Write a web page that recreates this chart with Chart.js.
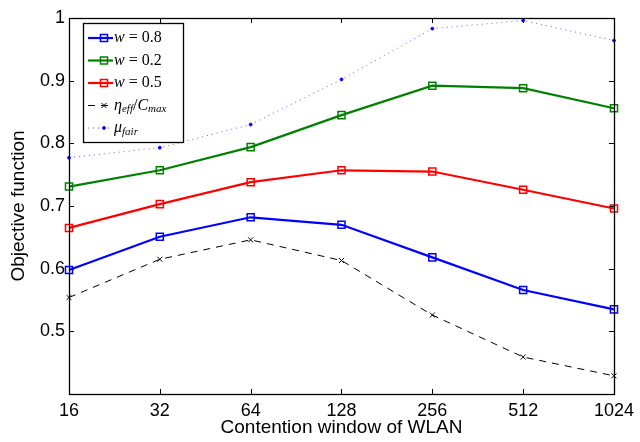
<!DOCTYPE html>
<html>
<head>
<meta charset="utf-8">
<script src="https://cdn.jsdelivr.net/npm/chart.js@4"></script>
<style>
  html, body { margin: 0; padding: 0; background: #fff; }
</style>
</head>
<body>
<canvas id="grafico" width="640" height="442"></canvas>
<script>
// --- Dados ---
const categorias = ['16', '32', '64', '128', '256', '512', '1024'];
const w08 = [0.598, 0.651, 0.682, 0.670, 0.618, 0.566, 0.535];
const w02 = [0.731, 0.757, 0.794, 0.845, 0.892, 0.888, 0.856];
const w05 = [0.665, 0.703, 0.738, 0.757, 0.755, 0.726, 0.696];
const etaEff = [0.554, 0.615, 0.646, 0.613, 0.526, 0.459, 0.429];
const muFair = [0.777, 0.793, 0.830, 0.902, 0.983, 0.996, 0.964];
const yTicks = [0.4, 0.5, 0.6, 0.7, 0.8, 0.9, 1];
const rotulos = ['w = 0.8', 'w = 0.2', 'w = 0.5', 'η_eff/C_max', 'μ_fair'];

const fonteEixo = 'Liberation Sans, Arial, sans-serif';

// moldura estilo MATLAB, com marcas para dentro nos quatro lados
const moldura = {
    id: 'moldura',
    afterDatasetsDraw(chart) {
        const { ctx, chartArea: a, scales } = chart;
        ctx.save();
        ctx.strokeStyle = '#000';
        ctx.lineWidth = 1;
        ctx.beginPath();
        categorias.forEach((c, i) => {
            const x = Math.round(scales.x.getPixelForValue(i)) + 0.5;
            ctx.moveTo(x, a.bottom); ctx.lineTo(x, a.bottom - 5);
            ctx.moveTo(x, a.top); ctx.lineTo(x, a.top + 5);
        });
        yTicks.forEach(v => {
            const y = Math.round(scales.y.getPixelForValue(v)) + 0.5;
            ctx.moveTo(a.left, y); ctx.lineTo(a.left + 5, y);
            ctx.moveTo(a.right, y); ctx.lineTo(a.right - 5, y);
        });
        ctx.stroke();
        ctx.lineWidth = 1.3;
        ctx.strokeRect(Math.round(a.left) + 0.5, Math.round(a.top) + 0.5,
            Math.round(a.right - a.left), Math.round(a.bottom - a.top));
        ctx.restore();
    }
};

// texto tipo LaTeX: letras em itálico, "_" abre subscrito
function desenhaRotulo(ctx, texto, x, y) {
    let sub = false;
    for (const ch of texto) {
        if (ch === '_') { sub = true; continue; }
        const letra = /[A-Za-zημ]/.test(ch);
        if (!letra) sub = false;
        const tam = sub ? 11 : 16;
        ctx.font = (letra ? 'italic ' : '') + tam + 'px Liberation Serif, Times New Roman, serif';
        if (ch !== ' ') ctx.fillText(ch, x, y + (sub ? 4 : 0));
        x += ch === ' ' ? 4 : ctx.measureText(ch).width;
    }
}

const legenda = {
    id: 'legendaMatlab',
    afterDraw(chart) {
        const ctx = chart.ctx;
        const bx = 83.5, by = 23.5, bw = 100, bh = 119;
        ctx.save();
        ctx.fillStyle = '#fff';
        ctx.fillRect(bx, by, bw, bh);
        ctx.strokeStyle = '#000';
        ctx.lineWidth = 1.3;
        ctx.strokeRect(bx, by, bw, bh);
        chart.data.datasets.forEach((ds, i) => {
            const y = 38 + i * 22.5;
            ctx.save();
            ctx.strokeStyle = ds.borderColor;
            ctx.lineWidth = ds.borderWidth;
            ctx.setLineDash(ds.borderDash || []);
            ctx.beginPath();
            ctx.moveTo(88, y); ctx.lineTo(113, y);
            ctx.stroke();
            ctx.restore();
            ctx.save();
            ctx.strokeStyle = ds.pointBorderColor;
            ctx.fillStyle = ds.pointBackgroundColor;
            ctx.lineWidth = ds.pointBorderWidth;
            Chart.helpers.drawPoint(ctx, {
                pointStyle: ds.pointStyle,
                radius: ds.pointRadius,
                borderWidth: ds.pointBorderWidth
            }, 104, y);
            ctx.restore();
            ctx.fillStyle = '#000';
            ctx.textBaseline = 'middle';
            desenhaRotulo(ctx, rotulos[i], 114, y);
        });
        ctx.restore();
    }
};

const ctx = document.getElementById('grafico').getContext('2d');
const serie = (dados, cor, extra) => Object.assign({
    data: dados,
    borderColor: cor,
    pointBorderColor: cor,
    pointBackgroundColor: 'rgba(0,0,0,0)',
    borderWidth: 2.2,
    pointStyle: 'rect',
    pointRadius: 5,
    pointBorderWidth: 1.5,
    tension: 0,
    clip: false
}, extra || {});

const grafico = new Chart(ctx, {
    type: 'line',
    data: {
        labels: categorias,
        datasets: [
            serie(w08, '#0000ff', { label: rotulos[0] }),
            serie(w02, '#008000', { label: rotulos[1] }),
            serie(w05, '#ff0000', { label: rotulos[2] }),
            serie(etaEff, '#000000', {
                label: rotulos[3], borderWidth: 1, borderDash: [7, 6],
                pointStyle: 'crossRot', pointRadius: 3.5, pointBorderWidth: 1
            }),
            serie(muFair, 'rgba(70,70,255,0.85)', {
                label: rotulos[4], borderWidth: 1, borderDash: [1, 4],
                pointStyle: 'circle', pointRadius: 1.4, pointBorderWidth: 1,
                pointBackgroundColor: '#0000ff', pointBorderColor: '#0000ff'
            })
        ]
    },
    options: {
        responsive: false,
        animation: false,
        devicePixelRatio: 1,
        layout: { padding: { left: 0, top: 18, right: 22, bottom: 0 } },
        plugins: { legend: { display: false }, tooltip: { enabled: false } },
        scales: {
            x: {
                offset: false,
                grid: { display: false, drawTicks: false },
                border: { display: false },
                ticks: { color: '#000', font: { family: fonteEixo, size: 18 }, padding: 6, maxRotation: 0 },
                title: { display: true, text: 'Contention window of WLAN', color: '#000',
                         font: { family: fonteEixo, size: 19 }, padding: { top: 0, bottom: 3 } },
                afterFit(s) { s.height = 48; }
            },
            y: {
                min: 0.4,
                max: 1,
                grid: { display: false, drawTicks: false },
                border: { display: false },
                afterBuildTicks(s) { s.ticks = yTicks.map(v => ({ value: v })); },
                ticks: {
                    color: '#000', font: { family: fonteEixo, size: 18 }, padding: 4,
                    callback: v => (Math.abs(v - 0.4) < 1e-9 ? '' : String(Number(v.toFixed(1))))
                },
                title: { display: true, text: 'Objective function', color: '#000',
                         font: { family: fonteEixo, size: 19 }, padding: { top: 7, bottom: 0 } },
                afterFit(s) { s.width = 69; }
            }
        }
    },
    plugins: [moldura, legenda]
});
</script>
</body>
</html>
